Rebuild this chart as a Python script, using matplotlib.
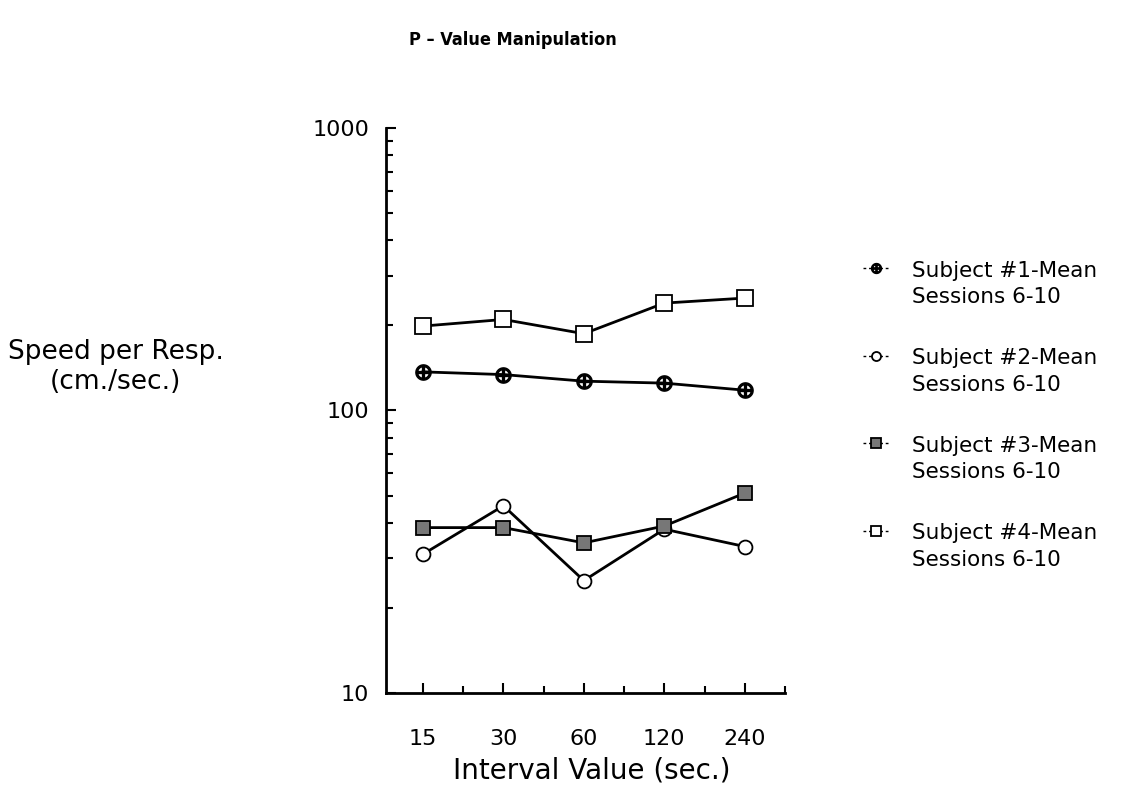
import numpy as np
import matplotlib
matplotlib.use("Agg")
import matplotlib.pyplot as plt
from matplotlib.lines import Line2D

# Interval values (categorical, evenly spaced on the x axis)
intervals = ["15", "30", "60", "120", "240"]

# Mean speed per response (cm./sec.), sessions 6-10
subject1 = [137, 134, 127, 125, 118]
subject2 = [31, 46, 25, 38, 33]
subject3 = [38.5, 38.5, 34, 39, 51]
subject4 = [199, 210, 187, 240, 250]

labels = ["Subject #1-Mean\nSessions 6-10",
          "Subject #2-Mean\nSessions 6-10",
          "Subject #3-Mean\nSessions 6-10",
          "Subject #4-Mean\nSessions 6-10"]

plt.rcParams["font.family"] = ["DejaVu Sans"]

fig = plt.figure(figsize=(11.22, 7.94), dpi=100)
ax = fig.add_axes([0.344, 0.1272, 0.3556, 0.7116])

x = np.arange(len(intervals))
styles = [
    dict(marker=r"$\oplus$", markersize=11, markerfacecolor="black", markeredgecolor="black"),
    dict(marker="o", markersize=10, markerfacecolor="white", markeredgecolor="black", markeredgewidth=1.3),
    dict(marker="s", markersize=10, markerfacecolor="#777777", markeredgecolor="black", markeredgewidth=1.3),
    dict(marker="s", markersize=12, markerfacecolor="white", markeredgecolor="black", markeredgewidth=1.3),
]
series = [subject1, subject2, subject3, subject4]
for vals, st in zip(series, styles):
    ax.plot(x, vals, color="black", linewidth=2, **st)

ax.set_yscale("log")
ax.set_ylim(10, 1000)
ax.set_xlim(-0.46, 4.5)
ax.set_xticks(x)
ax.set_xticklabels(intervals, fontsize=16)
ax.set_xticks([0.5, 1.5, 2.5, 3.5, 4.5], minor=True)
ax.set_yticks([10, 100, 1000])
ax.set_yticklabels(["10", "100", "1000"], fontsize=16)
ax.tick_params(axis="both", which="both", direction="in", width=1.5)
ax.tick_params(axis="x", which="major", length=7, pad=26)
ax.tick_params(axis="x", which="minor", length=5)
ax.tick_params(axis="y", which="major", length=7, pad=12)
ax.tick_params(axis="y", which="minor", length=5)
ax.yaxis.set_minor_formatter(matplotlib.ticker.NullFormatter())

for s in ["top", "right"]:
    ax.spines[s].set_visible(False)
for s in ["left", "bottom"]:
    ax.spines[s].set_linewidth(2)

ax.set_xlabel("Interval Value (sec.)", fontsize=20)
ax.xaxis.set_label_coords(0.516, -0.113)
ax.set_ylabel("Speed per Resp.\n(cm./sec.)", fontsize=19, rotation=0,
              ha="center", va="center", linespacing=1.2)
ax.yaxis.set_label_coords(-0.677, 0.577)

fig.text(513 / 1122, 1 - 40 / 794, "P – Value Manipulation", fontsize=13,
         fontweight="bold", fontstretch="condensed", ha="center", va="center")

# custom legend to the right
W, H = 1122, 794
for i, (lab, st) in enumerate(zip(labels, styles)):
    yc = 284 + 87.5 * i
    fig.text(912 / W, 1 - yc / H, lab, fontsize=15.5, ha="left", va="center",
             linespacing=1.4)
    mst = dict(st)
    mst["markersize"] = st["markersize"] * 0.65
    ym = 1 - (yc - 16) / H
    fig.add_artist(Line2D([863 / W, 876 / W, 890 / W], [ym] * 3,
                          transform=fig.transFigure, color="black",
                          linewidth=1, linestyle=(0, (2, 2)),
                          markevery=[1], **mst))

fig.savefig("out.png", dpi=100)
